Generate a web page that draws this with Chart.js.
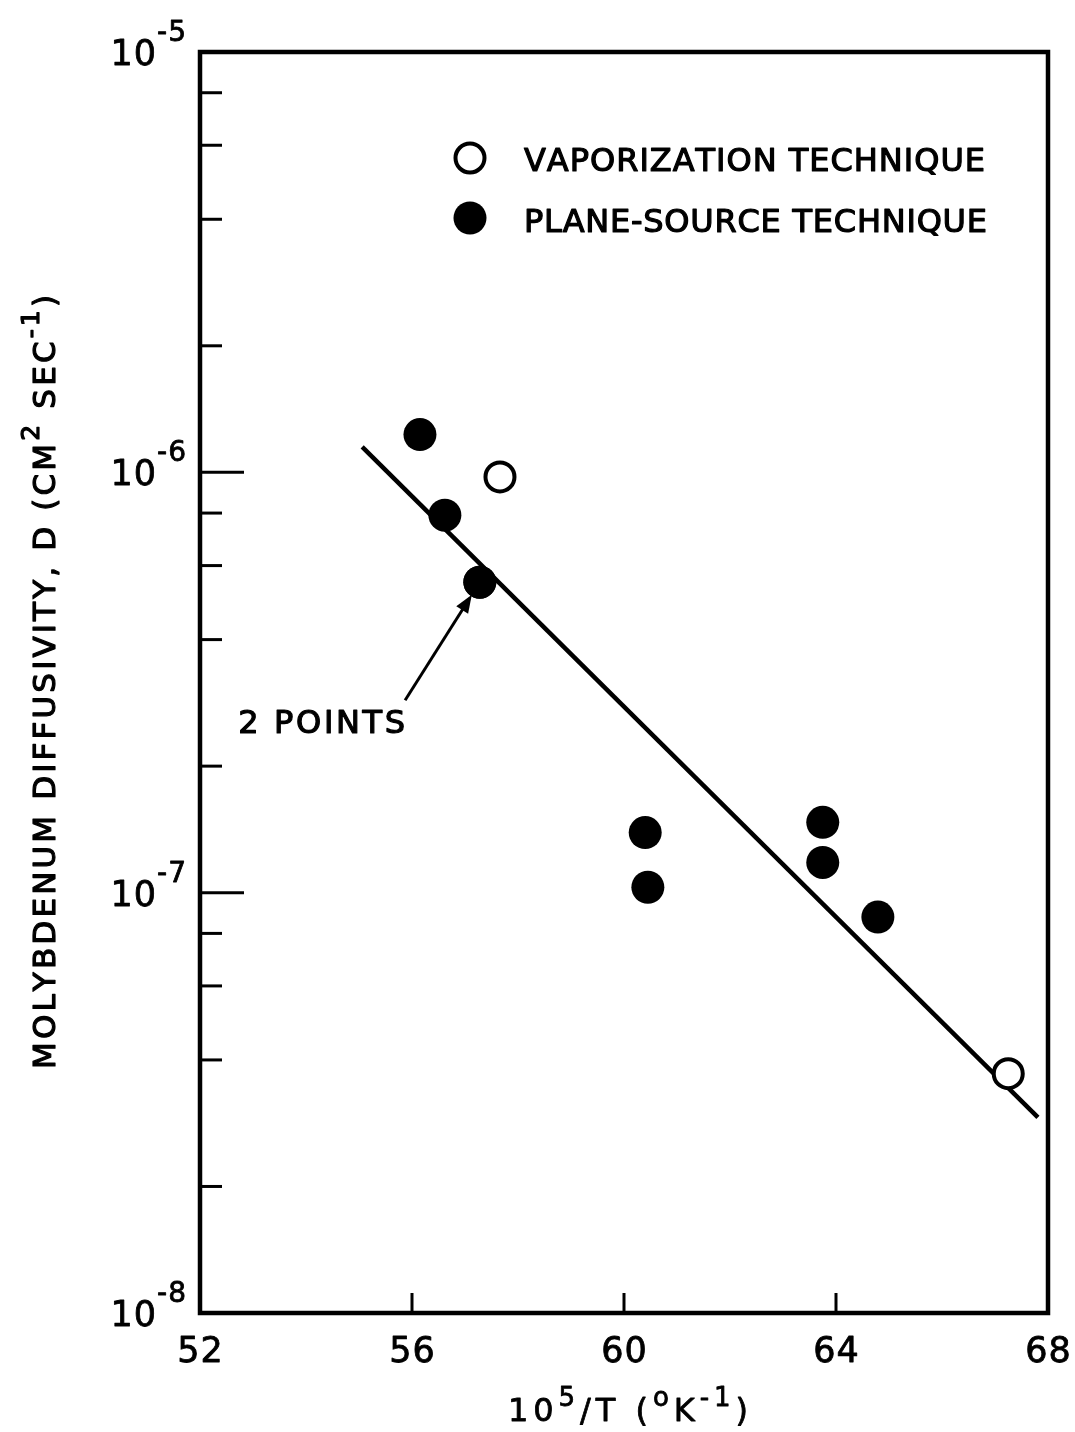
<!DOCTYPE html>
<html>
<head>
<meta charset="utf-8">
<title>Molybdenum diffusivity</title>
<script src="https://cdn.jsdelivr.net/npm/chart.js@4/dist/chart.umd.min.js"></script>
<style>
  html, body { margin: 0; padding: 0; background: #fff; }
  #wrap { width: 1075px; height: 1432px; }
</style>
</head>
<body>
<div id="wrap"><canvas id="plot" width="1075" height="1432"></canvas></div>
<script>
// plane-source technique (filled circles); 57.28 is two coincident points
var psX = [56.15, 56.62, 57.28, 57.28, 60.40, 60.45, 63.75, 63.75, 64.79];
var psY = [1.23e-6, 7.91e-7, 5.48e-7, 5.48e-7, 1.39e-7, 1.03e-7, 1.47e-7, 1.18e-7, 8.75e-8];

// vaporization technique (open circles)
var vapX = [57.66, 67.25];
var vapY = [9.75e-7, 3.71e-8];

// fitted line, end points
var fitX = [55.06, 67.81];
var fitY = [1.15e-6, 2.92e-8];

// axes
var xTicks = [52, 56, 60, 64, 68];
var yDecades = [1e-8, 1e-7, 1e-6, 1e-5];
var yDecadeExp = ['-8', '-7', '-6', '-5'];
var yMinor = [2, 4, 6, 8];

// "2 POINTS" note: label position and arrow tail in data units
var noteX = 52.72, noteY = 2.40e-7;
var arrowTailX = 55.87, arrowTailY = 2.87e-7;
var notePoint = 2; // index into psX/psY

var FONT = '"DejaVu Sans", "Liberation Sans", sans-serif';

function pts(xs, ys) {
  return xs.map(function (x, i) { return { x: x, y: ys[i] }; });
}

// draws text char by char, optional superscripts, spread to a target width
function drawText(ctx, parts, x, y, o) {
  var size = o.size, supSize = o.supSize || Math.round(size * 0.75), rise = o.rise || size * 0.45;
  var glyphs = [];
  parts.forEach(function (p) {
    var s = p.sup ? supSize : size;
    ctx.font = 'normal ' + s + 'px ' + FONT;
    for (var i = 0; i < p.t.length; i++) {
      var ch = p.t[i];
      glyphs.push({ ch: ch, font: ctx.font, w: ctx.measureText(ch).width, dy: p.sup ? -rise : 0 });
    }
  });
  var natural = glyphs.reduce(function (a, g) { return a + g.w; }, 0);
  var gap = o.spacing || 0;
  if (o.width) gap = (o.width - natural) / Math.max(1, glyphs.length - 1);
  var total = natural + gap * (glyphs.length - 1);
  var cx = x;
  if (o.align === 'center') cx = x - total / 2;
  else if (o.align === 'right') cx = x - total;
  ctx.textBaseline = 'alphabetic';
  ctx.textAlign = 'left';
  ctx.lineWidth = o.stroke || 1;
  ctx.lineJoin = 'round';
  glyphs.forEach(function (g) {
    ctx.font = g.font;
    ctx.fillText(g.ch, cx, y + g.dy);
    ctx.strokeText(g.ch, cx, y + g.dy);
    cx += g.w + gap;
  });
}

function dot(ctx, x, y, filled) {
  ctx.beginPath();
  if (filled) {
    ctx.arc(x, y, 16.5, 0, Math.PI * 2);
    ctx.fill();
  } else {
    ctx.arc(x, y, 14.5, 0, Math.PI * 2);
    ctx.fillStyle = '#fff';
    ctx.fill();
    ctx.fillStyle = '#000';
    ctx.lineWidth = 4;
    ctx.stroke();
  }
}

var framePlugin = {
  id: 'frame',
  beforeDatasetsDraw: function (chart) {
    var ctx = chart.ctx, a = chart.chartArea;
    var xs = chart.scales.x, ys = chart.scales.y;
    ctx.save();
    ctx.strokeStyle = '#000';
    ctx.fillStyle = '#000';
    ctx.lineCap = 'butt';

    // box
    ctx.lineWidth = 4.5;
    ctx.strokeRect(a.left, a.top, a.right - a.left, a.bottom - a.top);

    // y ticks (inside, left side)
    yDecades.forEach(function (d, k) {
      var py = ys.getPixelForValue(d);
      ctx.lineWidth = 3;
      if (k > 0 && k < yDecades.length - 1) {
        ctx.beginPath();
        ctx.moveTo(a.left, py);
        ctx.lineTo(a.left + 44, py);
        ctx.stroke();
      }
      if (k < yDecades.length - 1) {
        yMinor.forEach(function (m) {
          var my = ys.getPixelForValue(d * m);
          ctx.lineWidth = 3;
          ctx.beginPath();
          ctx.moveTo(a.left, my);
          ctx.lineTo(a.left + 22, my);
          ctx.stroke();
        });
      }
      drawText(ctx, [{ t: '10' }, { t: yDecadeExp[k], sup: true }], 186, py + 13,
        { size: 35, supSize: 28, rise: 24, align: 'right', spacing: 1, stroke: 0.8 });
    });

    // x ticks (inside, bottom)
    xTicks.forEach(function (t, k) {
      var px = xs.getPixelForValue(t);
      if (k > 0 && k < xTicks.length - 1) {
        ctx.lineWidth = 3;
        ctx.beginPath();
        ctx.moveTo(px, a.bottom);
        ctx.lineTo(px, a.bottom - 20);
        ctx.stroke();
      }
      drawText(ctx, [{ t: String(t) }], px, a.bottom + 49, { size: 35, align: 'center', spacing: 1, stroke: 0.8 });
    });

    // axis titles
    drawText(ctx, [{ t: '10' }, { t: '5', sup: true }, { t: '/T (' }, { t: 'o', sup: true },
      { t: 'K' }, { t: '-1', sup: true }, { t: ')' }], 628, 1421,
      { size: 32, supSize: 26, rise: 15, align: 'center', width: 240, stroke: 0.8 });

    ctx.save();
    ctx.translate(55, 682);
    ctx.rotate(-Math.PI / 2);
    drawText(ctx, [{ t: 'MOLYBDENUM DIFFUSIVITY, D (CM' }, { t: '2', sup: true },
      { t: ' SEC' }, { t: '-1', sup: true }, { t: ')' }], 0, 0,
      { size: 31, supSize: 25, rise: 16, align: 'center', width: 774, stroke: 1.2 });
    ctx.restore();

    // legend
    dot(ctx, 470, 158, false);
    dot(ctx, 470, 218, true);
    drawText(ctx, [{ t: 'VAPORIZATION TECHNIQUE' }], 524, 171, { size: 32, width: 461, stroke: 1.2 });
    drawText(ctx, [{ t: 'PLANE-SOURCE TECHNIQUE' }], 524, 232, { size: 32, width: 463, stroke: 1.2 });

    ctx.restore();
  },
  afterDatasetsDraw: function (chart) {
    var ctx = chart.ctx, xs = chart.scales.x, ys = chart.scales.y;
    ctx.save();
    ctx.fillStyle = '#000';
    ctx.strokeStyle = '#000';

    drawText(ctx, [{ t: '2 POINTS' }], xs.getPixelForValue(noteX), ys.getPixelForValue(noteY),
      { size: 32, width: 167, stroke: 1.2 });

    var tx = xs.getPixelForValue(arrowTailX), ty = ys.getPixelForValue(arrowTailY);
    var px = xs.getPixelForValue(psX[notePoint]), py = ys.getPixelForValue(psY[notePoint]);
    var dx = tx - px, dy = ty - py, len = Math.sqrt(dx * dx + dy * dy);
    var ux = dx / len, uy = dy / len;
    var hx = px + ux * 15, hy = py + uy * 15;
    ctx.lineWidth = 3;
    ctx.beginPath();
    ctx.moveTo(tx, ty);
    ctx.lineTo(hx + ux * 12, hy + uy * 12);
    ctx.stroke();
    ctx.beginPath();
    ctx.moveTo(hx, hy);
    ctx.lineTo(hx + ux * 18 - uy * 7, hy + uy * 18 + ux * 7);
    ctx.lineTo(hx + ux * 18 + uy * 7, hy + uy * 18 - ux * 7);
    ctx.closePath();
    ctx.fill();
    ctx.restore();
  }
};

new Chart(document.getElementById('plot'), {
  type: 'scatter',
  data: {
    datasets: [
      {
        label: 'PLANE-SOURCE TECHNIQUE',
        data: pts(psX, psY),
        pointRadius: 16.5,
        pointBackgroundColor: '#000',
        pointBorderWidth: 0,
        order: 0
      },
      {
        label: 'VAPORIZATION TECHNIQUE',
        data: pts(vapX, vapY),
        pointRadius: 14.5,
        pointBackgroundColor: '#fff',
        pointBorderColor: '#000',
        pointBorderWidth: 4,
        order: 0
      },
      {
        label: 'fit',
        data: pts(fitX, fitY),
        showLine: true,
        borderColor: '#000',
        borderWidth: 4.5,
        pointRadius: 0,
        order: 1
      }
    ]
  },
  options: {
    responsive: false,
    animation: false,
    layout: { padding: { left: 200, top: 52, right: 27, bottom: 119 } },
    plugins: { legend: { display: false }, tooltip: { enabled: false } },
    scales: {
      x: { type: 'linear', min: 52, max: 68, display: false },
      y: { type: 'logarithmic', min: 1e-8, max: 1e-5, display: false }
    }
  },
  plugins: [framePlugin]
});
</script>
</body>
</html>
